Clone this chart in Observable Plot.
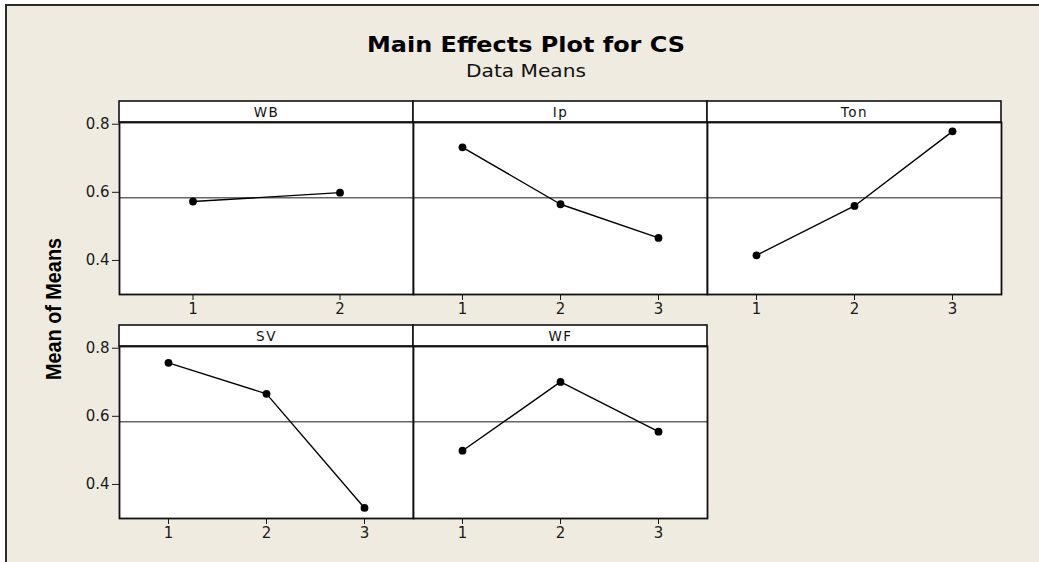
<!DOCTYPE html>
<html>
<head>
<meta charset="utf-8">
<script src="https://cdn.jsdelivr.net/npm/d3@7"></script>
<script src="https://cdn.jsdelivr.net/npm/@observablehq/plot@0.6"></script>
<style>
  html, body { margin: 0; padding: 0; background: #ffffff; overflow: hidden; }
  #wrap { position: relative; width: 1039px; height: 562px; overflow: hidden; }
  #bg { position: absolute; left: 0; top: 0; }
  .panel { position: absolute; }
</style>
</head>
<body>
<div id="wrap"></div>
<script>
// ---- data ----
const factors = ["WB", "Ip", "Ton", "SV", "WF"];
const levelsWB = [1, 2];
const levels3 = [1, 2, 3];
const meansWB = [0.573, 0.599];
const meansIp = [0.732, 0.565, 0.466];
const meansTon = [0.415, 0.560, 0.779];
const meansSV = [0.757, 0.666, 0.331];
const meansWF = [0.499, 0.701, 0.555];
const grandMean = 0.584;
const yTicks = [0.4, 0.6, 0.8];
const titleText = "Main Effects Plot for CS";
const subtitleText = "Data Means";
const yLabelText = "Mean of Means";

// ---- layout ----
const W = 1039, H = 562;
const ML = 45, MR = 5, MT = 21, MB = 32;
const PW = 294, PH = 172;
const colLeft = [119, 413, 707];
const rowTop = [101, 325];
const BEIGE = "#EFEBE0";
const FONT = "DejaVu Sans, Verdana, sans-serif";

const wrap = d3.select("#wrap");

// background box, title, subtitle, y label
const bg = wrap.append("svg").attr("id", "bg").attr("width", W).attr("height", H);
bg.append("rect").attr("x", 6).attr("y", 5).attr("width", 1200).attr("height", 700)
  .attr("fill", BEIGE).attr("stroke", "#2a2a2a").attr("stroke-width", 2);
bg.append("text").attr("x", 526).attr("y", 52).attr("text-anchor", "middle")
  .attr("font-family", FONT).attr("font-weight", "bold")
  .attr("font-size", 20.5).attr("textLength", 318).attr("lengthAdjust", "spacingAndGlyphs")
  .attr("fill", "#000").text(titleText);
bg.append("text").attr("x", 526).attr("y", 77).attr("text-anchor", "middle")
  .attr("font-family", FONT)
  .attr("font-size", 18.5).attr("textLength", 120).attr("lengthAdjust", "spacingAndGlyphs")
  .attr("fill", "#111").text(subtitleText);
bg.append("text").attr("transform", "translate(61,309) rotate(-90)").attr("text-anchor", "middle")
  .attr("font-family", "Liberation Sans, Arial, sans-serif").attr("font-weight", "bold")
  .attr("font-size", 22).attr("textLength", 142).attr("lengthAdjust", "spacingAndGlyphs")
  .attr("fill", "#000").text(yLabelText);

// strip header drawn as a render-function mark
function strip() {
  return (index, scales, values, dim) => {
    const g = d3.create("svg:g");
    g.append("rect")
      .attr("x", dim.marginLeft).attr("y", dim.marginTop - MT)
      .attr("width", dim.width - dim.marginLeft - dim.marginRight).attr("height", MT)
      .attr("fill", "white").attr("stroke", "#111").attr("stroke-width", 1.6);
    return g.node();
  };
}

function panel(name, levels, means, showY) {
  const data = levels.map((l, i) => ({level: l, mean: means[i]}));
  return Plot.plot({
    width: ML + PW + MR,
    height: MT + PH + MB,
    marginLeft: ML, marginRight: MR, marginTop: MT, marginBottom: MB,
    style: {background: "transparent", fontFamily: FONT, fontSize: "15px", color: "#1a1a1a", overflow: "visible"},
    x: {domain: [0.5, levels.length + 0.5], ticks: levels, tickFormat: "d", tickSize: 6, tickPadding: 3, label: null},
    y: {domain: [0.30, 0.805], ticks: yTicks, tickFormat: ".1f", tickSize: 7, tickPadding: 3, label: null, axis: showY ? "left" : null},
    marks: [
      Plot.frame({fill: "white", stroke: "none"}),
      strip(),
      Plot.ruleY([grandMean], {stroke: "#666", strokeWidth: 1.3}),
      Plot.line(data, {x: "level", y: "mean", stroke: "#000", strokeWidth: 1.4}),
      Plot.dot(data, {x: "level", y: "mean", r: 3.9, fill: "#000", stroke: "none"}),
      Plot.frame({stroke: "#111", strokeWidth: 1.8}),
      Plot.text([name], {text: d => d, frameAnchor: "top", lineAnchor: "middle", dy: -10, fontSize: 13, fill: "#111"})
    ]
  });
}

const panels = [
  {name: factors[0], levels: levelsWB, means: meansWB, col: 0, row: 0},
  {name: factors[1], levels: levels3, means: meansIp, col: 1, row: 0},
  {name: factors[2], levels: levels3, means: meansTon, col: 2, row: 0},
  {name: factors[3], levels: levels3, means: meansSV, col: 0, row: 1},
  {name: factors[4], levels: levels3, means: meansWF, col: 1, row: 1}
];

for (const p of panels) {
  const chart = panel(p.name, p.levels, p.means, p.col === 0);
  const sel = d3.select(chart);
  sel.selectAll("text").style("font-size", "15px").style("font-family", FONT);
  sel.selectAll("text").filter(function() { return this.textContent === p.name; })
    .style("font-size", "13.5px").style("letter-spacing", "1.5px");
  const div = wrap.append("div").attr("class", "panel")
    .style("left", (colLeft[p.col] - ML) + "px")
    .style("top", rowTop[p.row] + "px");
  div.node().appendChild(chart);
}
</script>
</body>
</html>
